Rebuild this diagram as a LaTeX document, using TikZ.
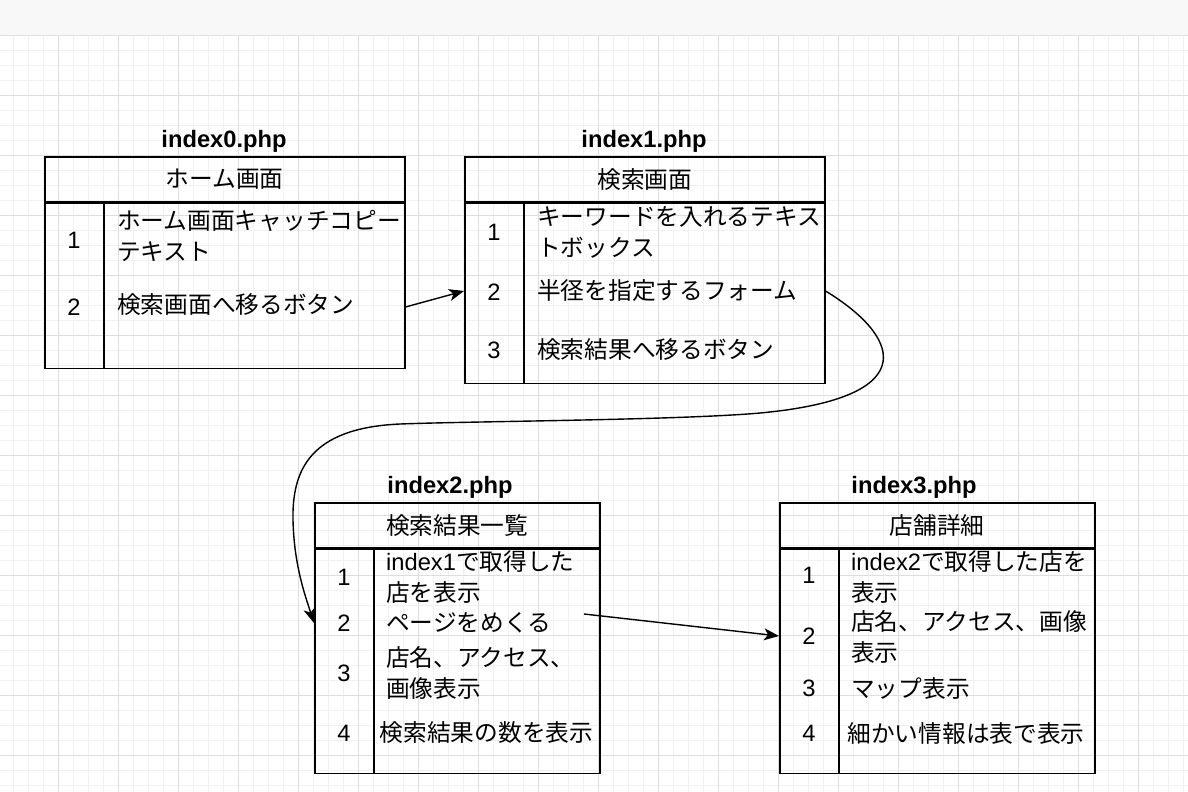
\documentclass[tikz,border=0pt]{standalone}
\usepackage{fontspec}
\setmainfont{Noto Sans CJK JP}
\newfontfamily\lat{Liberation Sans}
\usetikzlibrary{arrows.meta}
\definecolor{gridminor}{RGB}{241,241,241}
\definecolor{gridmajor}{RGB}{222,222,222}
\definecolor{barfill}{RGB}{248,248,248}
\tikzset{
  pagefont/.style={font=\fontsize{23.7}{31}\selectfont},
  titletext/.style={font=\lat\bfseries\fontsize{23.7}{28}\selectfont},
  hdrbox/.style={draw, line width=1.5pt, anchor=north west, minimum height=45, inner sep=0pt, pagefont},
  bodybox/.style={draw, line width=1.5pt, anchor=north west, inner sep=0pt},
  rownum/.style={font=\lat\fontsize{23.7}{28}\selectfont},
  rowtext/.style={anchor=west, align=left, inner sep=5pt, pagefont},
  link/.style={line width=1.4pt, -{Stealth[length=15pt,width=12pt,inset=4pt]}},
}
\begin{document}
\begin{tikzpicture}[x=1pt, y=-1pt]
        \useasboundingbox (0,0) rectangle (1188,792);
        % background grid
        \fill[white] (0,35) rectangle (1188,792);
        \foreach \i in {0,...,79} \draw[gridminor] ({-1.7+15*\i},35) -- ({-1.7+15*\i},792);
        \foreach \j in {1,...,50} \draw[gridminor] (0,{35+15*\j}) -- (1188,{35+15*\j});
        \foreach \i in {0,...,20} \draw[gridmajor] ({-1.7+60*\i},35) -- ({-1.7+60*\i},792);
        \foreach \j in {1,...,12} \draw[gridmajor] (0,{35+60*\j}) -- (1188,{35+60*\j});
        \fill[barfill] (0,0) rectangle (1188,35);
        \draw[black!12, line width=1.5pt] (0,35.5) -- (1188,35.5);

        % index0
        \node[titletext] (p0) at (224,141) {index0.php};
        \node[hdrbox, minimum width=360] (h0) at (44,156) {ホーム画面};
        \node[bodybox, minimum width=360, minimum height=165] (b0) at (h0.south west) {};
        \draw[line width=1.5pt] ([xshift=60]b0.north west) -- ([xshift=60]b0.south west);
        \node[rownum] (n01) at (74,240) {1};
        \node[rownum] (n02) at (74,307) {2};
        \node[rowtext] (t01) at (112,236) {ホーム画面キャッチコピー\\テキスト};
        \node[rowtext] (t02) at (112,305) {検索画面へ移るボタン};

        % index1
        \node[titletext] (p1) at (644,141) {index1.php};
        \node[hdrbox, minimum width=360] (h1) at (464,156) {検索画面};
        \node[bodybox, minimum width=360, minimum height=180] (b1) at (h1.south west) {};
        \draw[line width=1.5pt] ([xshift=60]b1.north west) -- ([xshift=60]b1.south west);
        \node[rownum] (n11) at (494,232) {1};
        \node[rownum] (n12) at (494,292) {2};
        \node[rownum] (n13) at (494,350) {3};
        \node[rowtext] (t11) at (532,232) {キーワードを入れるテキス\\トボックス};
        \node[rowtext] (t12) at (532,291) {半径を指定するフォーム};
        \node[rowtext] (t13) at (532,350) {検索結果へ移るボタン};

        % index2
        \node[titletext] (p2) at (450,487) {index2.php};
        \node[hdrbox, minimum width=285] (h2) at (314,502) {検索結果一覧};
        \node[bodybox, minimum width=285, minimum height=224] (b2) at (h2.south west) {};
        \draw[line width=1.5pt] ([xshift=60]b2.north west) -- ([xshift=60]b2.south west);
        \node[rownum] (n21) at (344,577) {1};
        \node[rownum] (n22) at (344,623) {2};
        \node[rownum] (n23) at (344,673) {3};
        \node[rownum] (n24) at (344,733) {4};
        \node[rowtext] (t21) at (381,577) {{\lat index1}で取得した\\店を表示};
        \node[rowtext] (t22) at (381,623) {ページをめくる};
        \node[rowtext] (t23) at (381,673) {店名、アクセス、\\画像表示};
        \node[pagefont] (t24) at (486.5,733) {検索結果の数を表示};

        % index3
        \node[titletext] (p3) at (914,487) {index3.php};
        \node[hdrbox, minimum width=315] (h3) at (779,502) {店舗詳細};
        \node[bodybox, minimum width=315, minimum height=224] (b3) at (h3.south west) {};
        \draw[line width=1.5pt] ([xshift=60]b3.north west) -- ([xshift=60]b3.south west);
        \node[rownum] (n31) at (809,575) {1};
        \node[rownum] (n32) at (809,636) {2};
        \node[rownum] (n33) at (809,688) {3};
        \node[rownum] (n34) at (809,733) {4};
        \node[rowtext] (t31) at (846,577) {{\lat index2}で取得した店を\\表示};
        \node[rowtext] (t32) at (846,637) {店名、アクセス、画像\\表示};
        \node[rowtext] (t33) at (846,688) {マップ表示};
        \node[pagefont] (t34) at (966,733) {細かい情報は表で表示};

        % links
        \draw[link] (b0.east |- n02) -- (b1.west |- t12);
        \draw[link] (b1.east |- t12) .. controls (898,335) and (925,395) .. (770,412)
            .. controls (700,420) and (480,421) .. (400,424)
            .. controls (310,428) and (292,470) .. (293,520)
            .. controls (294,565) and (305,595) .. (b2.west |- n22);
        \coordinate (c22) at (584,614);
        \draw[link] (c22) -- (b3.west |- n32);
    \end{tikzpicture}
\end{document}
